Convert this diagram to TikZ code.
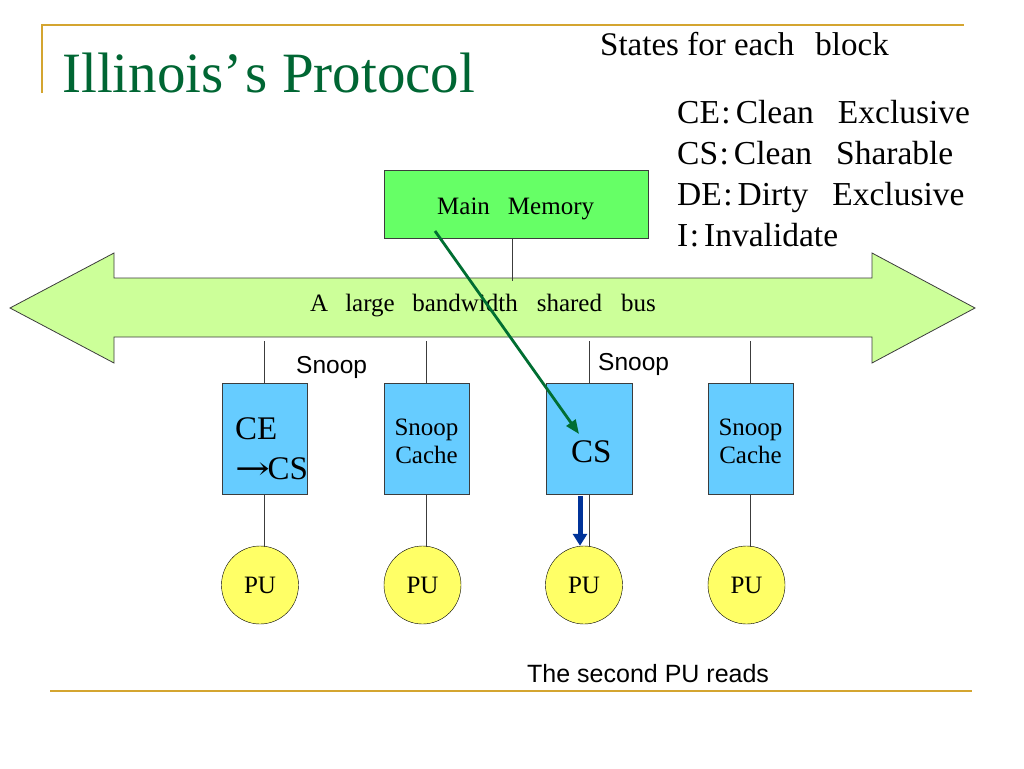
\documentclass[tikz,border=0pt]{standalone}
\usepackage{fontspec}
\usepackage{graphicx}
\setmainfont{Liberation Serif}
\newfontfamily\arialf{Liberation Sans}
\newfontfamily\symf{DejaVu Serif}
\usetikzlibrary{arrows.meta,shapes.geometric}
\definecolor{gold}{RGB}{212,165,48}
\definecolor{titlegreen}{RGB}{0,102,51}
\definecolor{memgreen}{RGB}{102,255,102}
\definecolor{busgreen}{RGB}{204,255,153}
\definecolor{cacheblue}{RGB}{102,204,255}
\definecolor{puyellow}{RGB}{255,255,102}
\definecolor{arrowgreen}{RGB}{0,110,50}
\definecolor{arrowblue}{RGB}{0,51,153}
\definecolor{edgegray}{RGB}{60,60,60}
\begin{document}
\begin{tikzpicture}[x=1pt,y=-1pt,
  goldline/.style={draw=gold,line width=2pt},
  membox/.style={draw=edgegray,fill=memgreen,minimum width=264pt,minimum height=68pt,inner sep=0pt},
  cachebox/.style={draw=edgegray,fill=cacheblue,minimum width=85pt,minimum height=111pt,inner sep=0pt},
  pu/.style={ellipse,draw=black,fill=puyellow,minimum width=77pt,minimum height=78pt,inner sep=0pt,font=\fontsize{25}{28}\selectfont},
  wire/.style={draw=edgegray,line width=0.8pt},
  txt/.style={inner sep=0pt,anchor=base west},
  ctxt/.style={inner sep=0pt,anchor=base},
  legend/.style={txt,font=\fontsize{33.5}{36}\selectfont},
  bigtxt/.style={font=\fontsize{33}{36}\selectfont},
  midtxt/.style={font=\fontsize{25}{28}\selectfont},
  sanstxt/.style={txt,font=\arialf\fontsize{24.5}{28}\selectfont}
]
\useasboundingbox (0,0) rectangle (1024,768);

% decorative gold rules
\draw[goldline] (42,93) -- (42,25) -- (964,25);
\draw[goldline] (50,691) -- (972,691);

% title and legend
\node[txt,text=titlegreen,font=\fontsize{57}{60}\selectfont] (title) at (62,92) {Illinois’\kern3pt s Protocol};
\node[txt,font=\fontsize{33}{36}\selectfont] (states) at (600,56) {States for each\hspace{21pt}block};
\node[legend] (l1) at (677,123) {CE\kern1.5pt:\kern5pt Clean\hspace{24pt}Exclusive};
\node[legend] (l2) at (677,164) {CS\kern1.5pt:\kern5pt Clean\hspace{24pt}Sharable};
\node[legend] (l3) at (677,205) {DE\kern1.5pt:\kern5pt Dirty\hspace{24pt}Exclusive};
\node[legend] (l4) at (677,246) {I\kern1.5pt:\kern5pt Invalidate};

% main memory
\node[membox] (mem) at (516,204) {};
\node[txt,midtxt] (memt) at (437,214) {Main\hspace{18pt}Memory};

% bus
\draw[draw=edgegray,fill=busgreen,line width=0.8pt] (10,308) -- (114,253) -- (114,278) -- (872,278) -- (872,253)
  -- (975,308) -- (872,363) -- (872,337) -- (114,337) -- (114,363) -- cycle;
\node[txt,midtxt] (bust) at (310,311) {A\hspace{17pt}large\hspace{17.5pt}bandwidth\hspace{19pt}shared\hspace{19pt}bus};
\coordinate (mb) at (512,281);
\draw[wire] (mb |- mem.south) -- (mb);

% caches
\node[cachebox] (c1) at (264.5,439) {};
\node[cachebox] (c2) at (426.5,439) {};
\node[cachebox,minimum width=86pt] (c3) at (589,439) {};
\node[cachebox] (c4) at (750.5,439) {};

\node[txt,bigtxt] (c1a) at (235,439) {CE};
\node[txt,bigtxt] (c1b) at (235,479) {\scalebox{1.3}[1]{\symf\fontsize{32}{36}\selectfont →}\kern-2.5pt CS};
\node[ctxt,midtxt] (c2a) at (426.5,435) {Snoop};
\node[ctxt,midtxt] (c2b) at (426.5,463) {Cache};
\node[txt,bigtxt] (c3a) at (571,462) {CS};
\node[ctxt,midtxt] (c4a) at (750.5,435) {Snoop};
\node[ctxt,midtxt] (c4b) at (750.5,463) {Cache};

% PUs
\node[pu] (p1) at (260,585) {PU};
\node[pu] (p2) at (422.5,585) {PU};
\node[pu] (p3) at (584,585) {PU};
\node[pu] (p4) at (746.5,585) {PU};

% bus to caches
\coordinate (b1) at (264.5,341);
\coordinate (b2) at (426.5,341);
\coordinate (b3) at (589,341);
\coordinate (b4) at (750.5,341);
\draw[wire] (b1) -- (c1.north);
\draw[wire] (b2) -- (c2.north);
\draw[wire] (b3) -- (c3.north);
\draw[wire] (b4) -- (c4.north);

% caches to PUs
\draw[wire] (c1.south) -- (c1.south |- 0,546.5);
\draw[wire] (c2.south) -- (c2.south |- 0,546.5);
\draw[wire] (c3.south) -- (c3.south |- 0,546.5);
\draw[wire] (c4.south) -- (c4.south |- 0,546.5);

% snoop labels
\node[sanstxt] (s1) at (296,373) {Snoop};
\node[sanstxt] (s2) at (598,370) {Snoop};

% arrows
\coordinate (gs) at (435,231);
\coordinate (ge) at (579,434);
\draw[arrowgreen,line width=2.8pt,-{Triangle[length=14pt,width=11pt]}] (gs) -- (ge);
\coordinate (bs) at (580,496);
\draw[arrowblue,line width=5pt,-{Triangle[length=12pt,width=14pt]}] (bs) -- (bs |- p3.north);

% caption
\node[txt,font=\arialf\fontsize{25}{28}\selectfont] (cap) at (527,682) {The second PU reads};
\end{tikzpicture}
\end{document}
